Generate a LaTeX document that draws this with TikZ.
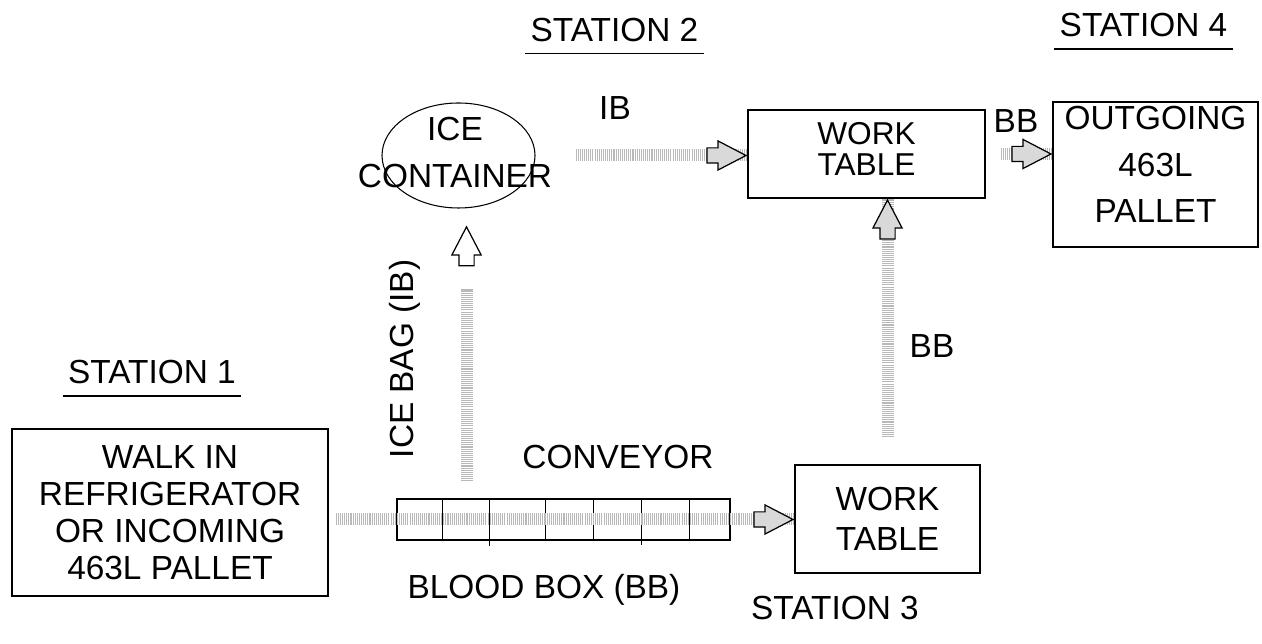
\documentclass[tikz,border=0pt]{standalone}
\usepackage{fontspec}
\setmainfont{Liberation Sans}
\usetikzlibrary{shapes.geometric,shapes.arrows,decorations.markings,positioning}
\tikzset{
  box/.style      ={rectangle, draw, line width=0.8pt, align=center, inner sep=0pt,
                    font=\fontsize{19}{21}\selectfont},
  lbl/.style      ={inner sep=0pt, align=center, font=\fontsize{19}{21}\selectfont},
  blockhead/.style={single arrow, draw=black, solid, line width=0.7pt, fill=gray!30,
                    inner xsep=0pt, inner ysep=0.14cm, minimum height=0.78cm,
                    single arrow tip angle=55, single arrow head extend=0.14cm},
  flow/.style     ={draw=gray!55, line width=0.24cm, dash pattern=on 0.6pt off 0.6pt,
                    postaction={decorate, decoration={markings,
                      mark=at position 1 with {\node[blockhead, transform shape, anchor=tip] {};}}}}
}
\begin{document}
\begin{tikzpicture}
\useasboundingbox (0,0) rectangle (25.24,12.88);
% stations
\node[box, minimum width=6.32cm, minimum height=3.34cm] (walk) at (3.40,2.63)
  {WALK IN\\REFRIGERATOR\\OR INCOMING\\463L PALLET};
\node[draw, line width=0.8pt, minimum width=6.66cm, minimum height=0.82cm] (conv) at (11.27,2.49) {};
\foreach \d/\e in {0.92/0, 1.86/0.1, 2.98/0, 3.94/0, 4.90/0.08, 5.86/0}
  \draw[line width=0.8pt] ([xshift=\d cm]conv.north west) -- ([xshift=\d cm, yshift=-\e cm]conv.south west);
\node[box, minimum width=3.70cm, minimum height=2.16cm, font=\fontsize{19}{22.7}\selectfont]
  (wt3) at (17.75,2.50) {WORK\\TABLE};
\node[box, minimum width=4.74cm, minimum height=1.76cm, font=\fontsize{18}{17.5}\selectfont,
  text depth=0.2cm] (wt2) at (17.33,9.80) {WORK\\TABLE};
\node[box, minimum width=4.10cm, minimum height=2.90cm, font=\fontsize{19}{26.5}\selectfont,
  text depth=0.4cm] (out) at (23.11,9.39) {OUTGOING\\463L\\PALLET};
\node[ellipse, draw, line width=0.6pt, minimum width=3.06cm, minimum height=2.10cm] (ice) at (9.17,9.77) {};
\node[lbl, font=\fontsize{19}{26.6}\selectfont] (icetxt) at (9.10,9.83) {ICE\\CONTAINER};

% labels
\node[lbl] (s1) at (3.04,5.43) {STATION 1};
\node[lbl] (s2) at (12.29,12.28) {STATION 2};
\node[lbl] (s3) at (16.70,0.72) {STATION 3};
\node[lbl] (s4) at (22.87,12.37) {STATION 4};
\foreach \s in {s1,s2,s4}
  \draw[line width=0.8pt] ([xshift=-0.1cm, yshift=-0.24cm]\s.base west) -- ([xshift=0.1cm, yshift=-0.24cm]\s.base east);
\node[lbl] (convlbl) at (12.36,3.74) {CONVEYOR};
\node[lbl] (bblbl) at (10.88,1.08) {BLOOD BOX (BB)};
\node[lbl, rotate=90] (iblbl) at (8.10,5.70) {ICE BAG (IB)};
\node[lbl] (ib) at (12.30,10.72) {IB};
\node[lbl] (bbup) at (18.64,5.96) {BB};
\node[lbl] (bbout) at (20.32,10.46) {BB};

% flows
\draw[flow, shorten <=0.14cm] (walk.east |- conv) -- (wt3.west |- conv);
\draw[flow, shorten <=0.34cm, shorten >=1.26cm, blockhead/.append style={fill=white}]
  ([xshift=0.16cm]conv.north -| ice.south) -- ([xshift=0.16cm, yshift=-0.34cm]ice.south);
\draw[flow, shorten <=0.8cm] (ice.east) -- (ice.east -| wt2.west);
\draw[flow, shorten <=0.54cm] (wt3.north) -- (wt3.north |- wt2.south);
\draw[flow, shorten <=0.3cm] (wt2.east) -- (wt2.east -| out.west);
\end{tikzpicture}
\end{document}
